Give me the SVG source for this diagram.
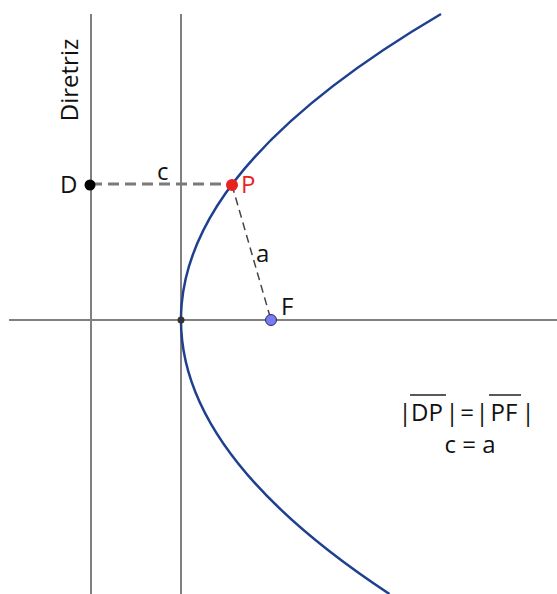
<svg xmlns="http://www.w3.org/2000/svg" width="557" height="594" viewBox="0 0 557 594">
<style>
.t{font-family:"Open Sans","Liberation Sans",sans-serif;font-size:24px;fill:#111}
.axis{stroke:#808080;stroke-width:2;fill:none}
</style>
<rect width="557" height="594" fill="#fff"/>
<g id="axes">
<line class="axis" x1="9" y1="320" x2="557" y2="320"/>
<line class="axis" x1="181" y1="14" x2="181" y2="594"/>
</g>
<g id="directrix">
<line class="axis" x1="91" y1="14" x2="91" y2="594"/>
<text class="t" font-size="29" text-anchor="middle" transform="translate(78,80) rotate(-90)">Diretriz</text>
</g>
<g id="parabola">
<path d="M441,14 Q-51.9,304 389.5,594" fill="none" stroke="#1f3f8f" stroke-width="2.5"/>
</g>
<g id="connectors">
<line x1="91" y1="184" x2="232" y2="184" stroke="#7a7a7a" stroke-width="3" stroke-dasharray="11,6"/>
<line x1="232" y1="185" x2="271" y2="320" stroke="#444" stroke-width="1.5" stroke-dasharray="8,5"/>
<text class="t" x="157" y="180">c</text>
<text class="t" x="256" y="262">a</text>
</g>
<g id="vertex">
<circle cx="181" cy="320" r="3.5" fill="#333"/>
</g>
<g id="D">
<circle cx="90" cy="185" r="5.5" fill="#000"/>
<text class="t" x="60" y="193">D</text>
</g>
<g id="P">
<circle cx="232" cy="185" r="6" fill="#e8231f"/>
<text class="t" x="241" y="193" style="fill:#e8231f">P</text>
</g>
<g id="F">
<circle cx="271" cy="320" r="5.5" fill="#7b7bf0" stroke="#2a2a70" stroke-width="1"/>
<text class="t" x="281" y="315">F</text>
</g>
<g id="formula">
<text class="t" x="405" y="421" text-anchor="middle">|</text>
<text class="t" x="427" y="421" text-anchor="middle">DP</text>
<text class="t" x="452" y="421" text-anchor="middle">|</text>
<text class="t" x="467" y="421" text-anchor="middle">=</text>
<text class="t" x="482" y="421" text-anchor="middle">|</text>
<text class="t" x="504" y="421" text-anchor="middle">PF</text>
<text class="t" x="528" y="421" text-anchor="middle">|</text>
<line x1="410" y1="395" x2="446" y2="395" stroke="#222" stroke-width="1.5"/>
<line x1="489" y1="395" x2="521" y2="395" stroke="#222" stroke-width="1.5"/>
<text class="t" x="470" y="453" text-anchor="middle">c = a</text>
</g>
</svg>
